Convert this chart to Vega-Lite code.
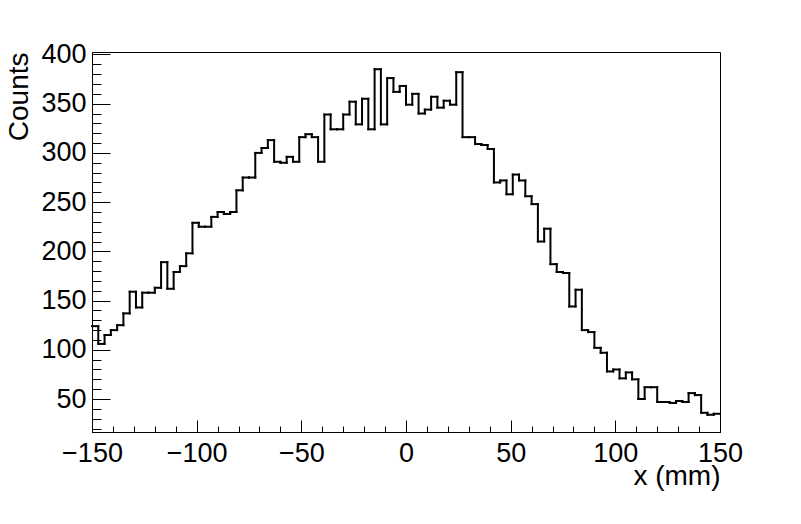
{
  "$schema": "https://vega.github.io/schema/vega-lite/v6.json",
  "width": 628,
  "height": 380,
  "autosize": "none",
  "padding": {"left": 92, "top": 52, "right": 81, "bottom": 92},
  "background": "white",
  "config": {
    "view": {"stroke": "black", "strokeWidth": 1},
    "font": "Liberation Sans",
    "axis": {
      "grid": false,
      "domainColor": "black",
      "domainWidth": 1,
      "tickColor": "black",
      "tickWidth": 1,
      "labelColor": "black",
      "labelFont": "Liberation Sans",
      "labelFontSize": 27,
      "labelOverlap": false,
      "labelBound": false,
      "labelFlush": false,
      "titleFont": "Liberation Sans",
      "titleFontSize": 28,
      "titleFontWeight": "normal",
      "titleColor": "black"
    }
  },
  "data": {
    "values": [
      {"lo": -150, "hi": -147, "n": 124}, {"lo": -147, "hi": -144, "n": 106}, {"lo": -144, "hi": -141, "n": 115},
      {"lo": -141, "hi": -138, "n": 120}, {"lo": -138, "hi": -135, "n": 125}, {"lo": -135, "hi": -132, "n": 137},
      {"lo": -132, "hi": -129, "n": 159}, {"lo": -129, "hi": -126, "n": 143}, {"lo": -126, "hi": -123, "n": 158},
      {"lo": -123, "hi": -120, "n": 158}, {"lo": -120, "hi": -117, "n": 163}, {"lo": -117, "hi": -114, "n": 189},
      {"lo": -114, "hi": -111, "n": 162}, {"lo": -111, "hi": -108, "n": 179}, {"lo": -108, "hi": -105, "n": 185},
      {"lo": -105, "hi": -102, "n": 198}, {"lo": -102, "hi": -99, "n": 229}, {"lo": -99, "hi": -96, "n": 225},
      {"lo": -96, "hi": -93, "n": 225}, {"lo": -93, "hi": -90, "n": 235}, {"lo": -90, "hi": -87, "n": 240},
      {"lo": -87, "hi": -84, "n": 238}, {"lo": -84, "hi": -81, "n": 240}, {"lo": -81, "hi": -78, "n": 262},
      {"lo": -78, "hi": -75, "n": 275}, {"lo": -75, "hi": -72, "n": 275}, {"lo": -72, "hi": -69, "n": 300},
      {"lo": -69, "hi": -66, "n": 305}, {"lo": -66, "hi": -63, "n": 313}, {"lo": -63, "hi": -60, "n": 291},
      {"lo": -60, "hi": -57, "n": 290}, {"lo": -57, "hi": -54, "n": 296}, {"lo": -54, "hi": -51, "n": 291},
      {"lo": -51, "hi": -48, "n": 316}, {"lo": -48, "hi": -45, "n": 319}, {"lo": -45, "hi": -42, "n": 316},
      {"lo": -42, "hi": -39, "n": 291}, {"lo": -39, "hi": -36, "n": 339}, {"lo": -36, "hi": -33, "n": 324},
      {"lo": -33, "hi": -30, "n": 324}, {"lo": -30, "hi": -27, "n": 339}, {"lo": -27, "hi": -24, "n": 352},
      {"lo": -24, "hi": -21, "n": 329}, {"lo": -21, "hi": -18, "n": 355}, {"lo": -18, "hi": -15, "n": 324},
      {"lo": -15, "hi": -12, "n": 385}, {"lo": -12, "hi": -9, "n": 329}, {"lo": -9, "hi": -6, "n": 376},
      {"lo": -6, "hi": -3, "n": 362}, {"lo": -3, "hi": 0, "n": 368}, {"lo": 0, "hi": 3, "n": 349},
      {"lo": 3, "hi": 6, "n": 360}, {"lo": 6, "hi": 9, "n": 340}, {"lo": 9, "hi": 12, "n": 344},
      {"lo": 12, "hi": 15, "n": 357}, {"lo": 15, "hi": 18, "n": 346}, {"lo": 18, "hi": 21, "n": 353},
      {"lo": 21, "hi": 24, "n": 349}, {"lo": 24, "hi": 27, "n": 382}, {"lo": 27, "hi": 30, "n": 316},
      {"lo": 30, "hi": 33, "n": 316}, {"lo": 33, "hi": 36, "n": 309}, {"lo": 36, "hi": 39, "n": 308},
      {"lo": 39, "hi": 42, "n": 304}, {"lo": 42, "hi": 45, "n": 270}, {"lo": 45, "hi": 48, "n": 272},
      {"lo": 48, "hi": 51, "n": 258}, {"lo": 51, "hi": 54, "n": 278}, {"lo": 54, "hi": 57, "n": 272},
      {"lo": 57, "hi": 60, "n": 256}, {"lo": 60, "hi": 63, "n": 248}, {"lo": 63, "hi": 66, "n": 210},
      {"lo": 66, "hi": 69, "n": 223}, {"lo": 69, "hi": 72, "n": 187}, {"lo": 72, "hi": 75, "n": 179},
      {"lo": 75, "hi": 78, "n": 178}, {"lo": 78, "hi": 81, "n": 144}, {"lo": 81, "hi": 84, "n": 161},
      {"lo": 84, "hi": 87, "n": 120}, {"lo": 87, "hi": 90, "n": 118}, {"lo": 90, "hi": 93, "n": 102},
      {"lo": 93, "hi": 96, "n": 97}, {"lo": 96, "hi": 99, "n": 78}, {"lo": 99, "hi": 102, "n": 80},
      {"lo": 102, "hi": 105, "n": 71}, {"lo": 105, "hi": 108, "n": 77}, {"lo": 108, "hi": 111, "n": 70},
      {"lo": 111, "hi": 114, "n": 50}, {"lo": 114, "hi": 117, "n": 62}, {"lo": 117, "hi": 120, "n": 62},
      {"lo": 120, "hi": 123, "n": 47}, {"lo": 123, "hi": 126, "n": 47}, {"lo": 126, "hi": 129, "n": 46},
      {"lo": 129, "hi": 132, "n": 48}, {"lo": 132, "hi": 135, "n": 47}, {"lo": 135, "hi": 138, "n": 56},
      {"lo": 138, "hi": 141, "n": 54}, {"lo": 141, "hi": 144, "n": 36}, {"lo": 144, "hi": 147, "n": 34},
      {"lo": 147, "hi": 150, "n": 35}
    ]
  },
  "layer": [
    {
      "mark": {"type": "rule", "stroke": "black", "strokeWidth": 2, "strokeCap": "square"},
      "encoding": {
        "x": {
          "field": "lo",
          "type": "quantitative",
          "scale": {"domain": [-150, 150], "nice": false, "zero": false},
          "axis": {
            "values": [-150, -140, -130, -120, -110, -100, -90, -80, -70, -60, -50, -40, -30, -20, -10, 0, 10, 20, 30, 40, 50, 60, 70, 80, 90, 100, 110, 120, 130, 140, 150],
            "tickCount": 1000,
            "format": "d",
            "labelExpr": "datum.value % 50 === 0 ? datum.label : ''",
            "tickSize": {"condition": {"test": "datum.value % 50 === 0", "value": -12}, "value": -6},
            "labelPadding": 20,
            "title": "x (mm)",
            "titleAnchor": "end",
            "titleAlign": "right",
            "titleBaseline": "alphabetic",
            "titleX": 628,
            "titleY": 52
          }
        },
        "x2": {"field": "hi"},
        "y": {
          "field": "n",
          "type": "quantitative",
          "scale": {"domain": [16.5, 402.5], "nice": false, "zero": false},
          "axis": {
            "values": [20, 30, 40, 50, 60, 70, 80, 90, 100, 110, 120, 130, 140, 150, 160, 170, 180, 190, 200, 210, 220, 230, 240, 250, 260, 270, 280, 290, 300, 310, 320, 330, 340, 350, 360, 370, 380, 390, 400],
            "tickCount": 1000,
            "format": "d",
            "labelExpr": "datum.value % 50 === 0 ? datum.label : ''",
            "tickSize": {"condition": {"test": "datum.value % 50 === 0", "value": -18}, "value": -9},
            "labelPadding": 24,
            "title": "Counts",
            "titleAnchor": "end",
            "titleAlign": "right",
            "titleAngle": -90,
            "titleBaseline": "alphabetic",
            "titleX": -65,
            "titleY": 0
          }
        }
      }
    },
    {
      "transform": [
        {"window": [{"op": "lead", "field": "n", "as": "next"}], "sort": [{"field": "lo"}]},
        {"filter": "datum.next != null"}
      ],
      "mark": {"type": "rule", "stroke": "black", "strokeWidth": 2, "strokeCap": "square"},
      "encoding": {
        "x": {"field": "hi", "type": "quantitative"},
        "y": {"field": "n", "type": "quantitative"},
        "y2": {"field": "next"}
      }
    }
  ]
}
